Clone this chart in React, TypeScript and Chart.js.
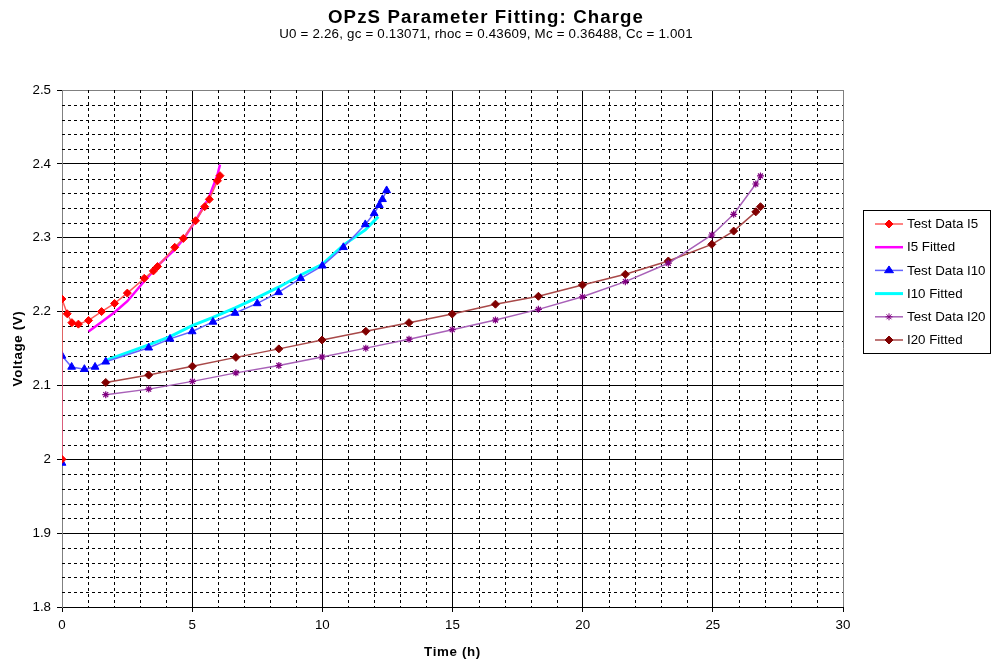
import React, { useEffect, useRef } from "react";
import { Chart, registerables } from "chart.js";

Chart.register(...registerables);

const FONT = "'Liberation Sans', Arial, sans-serif";
const TICK_SIZE = 13.33;

const TITLE = "OPzS Parameter Fitting: Charge";
const SUBTITLE = "U0 = 2.26, gc = 0.13071, rhoc = 0.43609, Mc = 0.36488, Cc = 1.001";
const X_TITLE = "Time (h)";
const Y_TITLE = "Voltage (V)";

const SERIES_NAMES = ["Test Data I5", "I5 Fitted", "Test Data I10", "I10 Fitted", "Test Data I20", "I20 Fitted"];

// Test Data I5
const I5_T = [0, 0, 0.2, 0.38, 0.63, 1.02, 1.52, 2.02, 2.51, 3.16, 3.51, 3.67, 4.33, 4.66, 5.13, 5.48, 5.66, 5.97, 6.07];
const I5_V = [2.0, 2.217, 2.197, 2.185, 2.183, 2.188, 2.2, 2.211, 2.225, 2.245, 2.255, 2.261, 2.287, 2.299, 2.323, 2.342, 2.352, 2.377, 2.384];
// I5 Fitted
const I5F_T = [1.02, 1.52, 2.02, 2.51, 3.16, 3.51, 3.67, 4.33, 4.66, 5.13, 5.48, 5.66, 5.97, 6.07];
const I5F_V = [2.173, 2.186, 2.199, 2.214, 2.241, 2.255, 2.262, 2.284, 2.298, 2.323, 2.344, 2.356, 2.385, 2.399];
// Test Data I10
const I10_T = [0, 0, 0.37, 0.86, 1.27, 1.68, 3.33, 4.15, 5.0, 5.8, 6.65, 7.5, 8.32, 9.17, 10.0, 10.81, 11.65, 11.99, 12.19, 12.31, 12.47];
const I10_V = [1.995, 2.14, 2.125, 2.122, 2.125, 2.132, 2.151, 2.163, 2.173, 2.186, 2.198, 2.211, 2.226, 2.245, 2.262, 2.287, 2.318, 2.333, 2.344, 2.352, 2.364];
// I10 Fitted
const I10F_T = [1.68, 3.33, 4.15, 5.0, 5.8, 6.65, 7.5, 8.32, 9.17, 10.0, 10.81, 11.65, 12.15];
const I10F_V = [2.134, 2.155, 2.166, 2.181, 2.192, 2.205, 2.219, 2.233, 2.2495, 2.264, 2.29, 2.3105, 2.3285];
// I20 (test and fitted share times)
const I20_T = [1.68, 3.33, 5.01, 6.68, 8.33, 9.99, 11.67, 13.33, 14.99, 16.65, 18.3, 19.99, 21.64, 23.29, 24.96, 25.8, 26.65, 26.83];
const I20_V = [2.0875, 2.095, 2.1055, 2.117, 2.127, 2.1385, 2.1505, 2.1625, 2.1755, 2.1886, 2.203, 2.22, 2.2405, 2.2654, 2.3037, 2.3317, 2.3727, 2.3836];
const I20F_V = [2.104, 2.114, 2.126, 2.138, 2.1495, 2.1615, 2.1733, 2.185, 2.1967, 2.21, 2.2207, 2.236, 2.2505, 2.2685, 2.291, 2.309, 2.335, 2.342];

const X_MIN = 0, X_MAX = 30, X_MAJOR = 5, X_MINOR = 1;
const Y_MIN = 1.8, Y_MAX = 2.5, Y_MAJOR = 0.1, Y_MINOR = 0.02;

const pts = (xs: number[], ys: number[]) => xs.map((x, i) => ({ x, y: ys[i] }));

function drawMarker(ctx: CanvasRenderingContext2D, style: string, cx: number, cy: number, r: number, fill: string) {
  ctx.save();
  ctx.fillStyle = fill;
  ctx.strokeStyle = fill;
  ctx.lineWidth = 1;
  ctx.setLineDash([]);
  ctx.beginPath();
  if (style === "rectRot") {
    ctx.moveTo(cx, cy - r); ctx.lineTo(cx + r, cy); ctx.lineTo(cx, cy + r); ctx.lineTo(cx - r, cy); ctx.closePath();
    ctx.fill(); ctx.stroke();
  } else if (style === "triangle") {
    const h = r * 1.5;
    ctx.moveTo(cx, cy - h * 0.66); ctx.lineTo(cx + r, cy + h * 0.34); ctx.lineTo(cx - r, cy + h * 0.34); ctx.closePath();
    ctx.fill(); ctx.stroke();
  } else if (style === "star") {
    const d = r * 0.707;
    ctx.moveTo(cx - r, cy); ctx.lineTo(cx + r, cy);
    ctx.moveTo(cx, cy - r); ctx.lineTo(cx, cy + r);
    ctx.moveTo(cx - d, cy - d); ctx.lineTo(cx + d, cy + d);
    ctx.moveTo(cx - d, cy + d); ctx.lineTo(cx + d, cy - d);
    ctx.stroke();
  }
  ctx.restore();
}

const minorGridPlugin = {
  id: "minorGrid",
  beforeDatasetsDraw(chart: any) {
    const { ctx, chartArea, scales } = chart;
    const { left, right, top, bottom } = chartArea;
    ctx.save();
    ctx.strokeStyle = "#000";
    ctx.lineWidth = 1;
    ctx.setLineDash([3, 3]);
    const nx = Math.round((X_MAX - X_MIN) / X_MINOR);
    const per = Math.round(X_MAJOR / X_MINOR);
    for (let i = 1; i < nx; i++) {
      if (i % per === 0) continue;
      const px = Math.round(scales.x.getPixelForValue(X_MIN + i * X_MINOR)) + 0.5;
      ctx.beginPath(); ctx.moveTo(px, top); ctx.lineTo(px, bottom); ctx.stroke();
    }
    const ny = Math.round((Y_MAX - Y_MIN) / Y_MINOR);
    const pery = Math.round(Y_MAJOR / Y_MINOR);
    for (let i = 1; i < ny; i++) {
      if (i % pery === 0) continue;
      const py = Math.round(scales.y.getPixelForValue(Y_MIN + i * Y_MINOR)) + 0.5;
      ctx.beginPath(); ctx.moveTo(left, py); ctx.lineTo(right, py); ctx.stroke();
    }
    ctx.restore();
  },
};

const textPlugin = {
  id: "texts",
  afterDraw(chart: any) {
    const { ctx, chartArea } = chart;
    ctx.save();
    ctx.fillStyle = "#000";
    ctx.textAlign = "center";
    ctx.textBaseline = "alphabetic";
    (ctx as any).letterSpacing = "1.1px";
    ctx.font = `bold 18.67px ${FONT}`;
    ctx.fillText(TITLE, 486, 23);
    (ctx as any).letterSpacing = "0.2px";
    ctx.font = `${TICK_SIZE}px ${FONT}`;
    ctx.fillText(SUBTITLE, 486, 37.5);
    (ctx as any).letterSpacing = "0.65px";
    ctx.font = `bold ${TICK_SIZE}px ${FONT}`;
    ctx.textBaseline = "middle";
    ctx.fillText(X_TITLE, (chartArea.left + chartArea.right) / 2, 652);
    ctx.translate(18, (chartArea.top + chartArea.bottom) / 2);
    ctx.rotate(-Math.PI / 2);
    ctx.fillText(Y_TITLE, 0, 0);
    ctx.restore();
  },
};

const legendBoxPlugin = {
  id: "legendBox",
  afterDraw(chart: any) {
    const { ctx } = chart;
    const bx = 863.5, by = 210.5, bw = 127, bh = 143;
    ctx.save();
    ctx.fillStyle = "#fff";
    ctx.fillRect(bx, by, bw, bh);
    ctx.strokeStyle = "#000";
    ctx.lineWidth = 1;
    ctx.strokeRect(bx, by, bw, bh);
    chart.data.datasets.forEach((ds: any, i: number) => {
      const cy = 224 + i * 23.2;
      ctx.save();
      ctx.strokeStyle = ds.borderColor;
      ctx.lineWidth = ds.borderWidth;
      ctx.beginPath();
      ctx.moveTo(875, cy);
      ctx.lineTo(903, cy);
      ctx.stroke();
      ctx.restore();
      if (ds.pointRadius > 0) drawMarker(ctx, ds.pointStyle, 889, cy, ds.pointRadius, ds.pointBackgroundColor);
      ctx.fillStyle = "#000";
      ctx.font = `${TICK_SIZE}px ${FONT}`;
      ctx.textBaseline = "middle";
      ctx.textAlign = "left";
      ctx.fillText(ds.label, 907, cy + 0.5);
    });
    ctx.restore();
  },
};

export default function App() {
  const ref = useRef<HTMLCanvasElement | null>(null);
  useEffect(() => {
    if (!ref.current) return;
    const datasets: any[] = [
      {
        label: SERIES_NAMES[0], data: pts(I5_T, I5_V),
        borderColor: "#ff5a5a", borderWidth: 1.5,
        pointStyle: "rectRot", pointRadius: 4, pointBackgroundColor: "#ff0000", pointBorderColor: "#ff0000", pointBorderWidth: 1,
      },
      {
        label: SERIES_NAMES[1], data: pts(I5F_T, I5F_V),
        borderColor: "#ff00ff", borderWidth: 2.5, pointRadius: 0, pointStyle: "line", pointBackgroundColor: "#ff00ff",
      },
      {
        label: SERIES_NAMES[2], data: pts(I10_T, I10_V),
        borderColor: "#6464ff", borderWidth: 1.5,
        pointStyle: "triangle", pointRadius: 4.5, pointBackgroundColor: "#0000ff", pointBorderColor: "#0000ff", pointBorderWidth: 1,
      },
      {
        label: SERIES_NAMES[3], data: pts(I10F_T, I10F_V),
        borderColor: "#00ffff", borderWidth: 3, pointRadius: 0, pointStyle: "line", pointBackgroundColor: "#00ffff",
      },
      {
        label: SERIES_NAMES[4], data: pts(I20_T, I20_V),
        borderColor: "#a860b8", borderWidth: 1.5,
        pointStyle: "star", pointRadius: 3.5, pointBackgroundColor: "#800080", pointBorderColor: "#800080", pointBorderWidth: 1.2,
      },
      {
        label: SERIES_NAMES[5], data: pts(I20_T, I20F_V),
        borderColor: "#a84848", borderWidth: 1.5,
        pointStyle: "rectRot", pointRadius: 4, pointBackgroundColor: "#800000", pointBorderColor: "#800000", pointBorderWidth: 1,
      },
    ];
    datasets.forEach((d) => { d.tension = 0; d.showLine = true; });

    const chart = new Chart(ref.current, {
      type: "scatter",
      data: { datasets },
      options: {
        animation: false,
        responsive: false,
        layout: { padding: { left: 0, right: 153, top: 90, bottom: 0 } },
        plugins: {
          legend: { display: false },
          tooltip: { enabled: false },
          title: { display: false },
        },
        scales: {
          x: {
            type: "linear", min: X_MIN, max: X_MAX,
            afterFit: (s: any) => { s.height = 57; },
            ticks: { stepSize: X_MAJOR, autoSkip: false, maxRotation: 0, color: "#000", padding: 5, font: { family: FONT, size: TICK_SIZE } },
            grid: {
              color: (c: any) => (c.tick && c.tick.value === X_MAX ? "#808080" : "#000"),
              lineWidth: 1, tickLength: 5, tickColor: "#000",
            },
            border: { color: "#000", width: 1 },
            title: { display: false },
          },
          y: {
            type: "linear", min: Y_MIN, max: Y_MAX,
            afterFit: (s: any) => { s.width = 62; },
            ticks: {
              stepSize: Y_MAJOR, autoSkip: false, color: "#000", padding: 6, font: { family: FONT, size: TICK_SIZE },
              callback: (v: any) => String(Math.round(Number(v) * 10) / 10),
            },
            grid: {
              color: (c: any) => (c.tick && Math.abs(c.tick.value - Y_MAX) < 1e-6 ? "#808080" : "#000"),
              lineWidth: 1, tickLength: 5, tickColor: "#000",
            },
            border: { color: "#808080", width: 1 },
            title: { display: false },
          },
        },
      },
      plugins: [minorGridPlugin, textPlugin, legendBoxPlugin],
    } as any);
    return () => chart.destroy();
  }, []);

  return (
    <div style={{ position: "absolute", left: 0, top: 0, width: 996, height: 664, background: "#fff" }}>
      <canvas ref={ref} width={996} height={664} style={{ display: "block", width: 996, height: 664 }} />
    </div>
  );
}
